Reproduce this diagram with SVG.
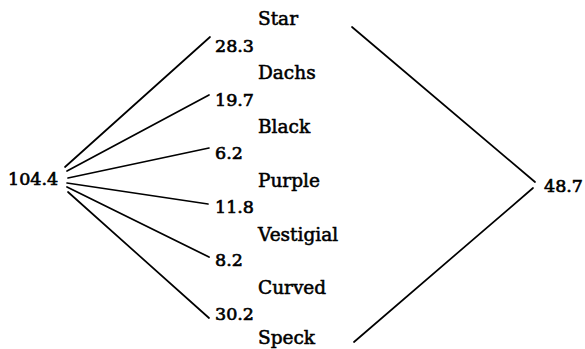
<svg xmlns="http://www.w3.org/2000/svg" width="585" height="349" viewBox="0 0 585 349">
<style>
text{font-family:"DejaVu Serif",serif;font-size:18.5px;fill:#000;stroke:#000;stroke-width:0.55}
text.n{font-size:17.5px;stroke-width:0.65}
.c line{stroke:#000;stroke-width:1.7;stroke-linecap:round;fill:none}
</style>
<rect width="585" height="349" fill="#fff"/>
<g id="connectors" class="c">
<line x1="65" y1="167" x2="210" y2="37"/>
<line x1="67" y1="171" x2="209" y2="95"/>
<line x1="68" y1="178" x2="209" y2="148"/>
<line x1="67" y1="183" x2="208" y2="204"/>
<line x1="67" y1="187" x2="209" y2="257"/>
<line x1="68" y1="192" x2="209" y2="318"/>
<line x1="352" y1="27" x2="535" y2="182"/>
<line x1="533" y1="188" x2="354" y2="342"/>
</g>
<g id="n-root"><text class="n" x="8" y="185">104.4</text></g>
<g id="n-right"><text class="n" x="544" y="192">48.7</text></g>
<g id="n-star"><text x="258" y="25">Star</text></g>
<g id="v-star"><text class="n" x="215" y="52">28.3</text></g>
<g id="n-dachs"><text x="258" y="79">Dachs</text></g>
<g id="v-dachs"><text class="n" x="215" y="106">19.7</text></g>
<g id="n-black"><text x="258" y="133">Black</text></g>
<g id="v-black"><text class="n" x="215" y="159">6.2</text></g>
<g id="n-purple"><text x="258" y="187">Purple</text></g>
<g id="v-purple"><text class="n" x="215" y="213">11.8</text></g>
<g id="n-vestigial"><text x="258" y="241">Vestigial</text></g>
<g id="v-vestigial"><text class="n" x="215" y="266">8.2</text></g>
<g id="n-curved"><text x="258" y="294">Curved</text></g>
<g id="v-curved"><text class="n" x="215" y="320">30.2</text></g>
<g id="n-speck"><text x="258" y="344">Speck</text></g>
</svg>
